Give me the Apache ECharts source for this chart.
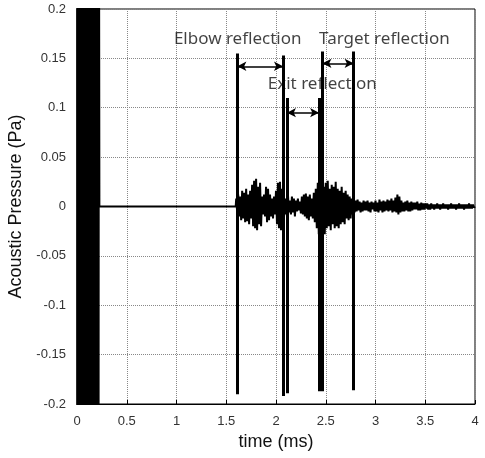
<!DOCTYPE html>
<html>
<head>
<meta charset="utf-8">
<script src="https://cdn.jsdelivr.net/npm/echarts@6/dist/echarts.min.js"></script>
<style>
  html, body { margin: 0; padding: 0; background: #fff; }
  #chart { width: 485px; height: 458px; }
</style>
</head>
<body>
<div id="chart"></div>
<script>
// x ticks / y ticks
const xTicks = { min: 0, max: 4, step: 0.5 }
const yTicks = { min: -0.2, max: 0.2, step: 0.05 }

// incident pulse near t = 0 (clipped by the y range)
const burstStart = 0
const burstStep = 0.005
const burstValues = [
  0.9, -0.8, 1.0, -0.9, 0.7, -1.0, 0.8, -0.7, 0.9, -0.8,
  1.0, -0.9, 0.8, -1.0, 0.9, -0.8, 0.7, -0.9, 1.0, -0.7,
  0.8, -0.9, 0.9, -1.0, 0.7, -0.8, 1.0, -0.9, 0.8, -0.7,
  0.9, -1.0, 0.8, -0.9, 0.7, -0.8, 0.9, -0.7, 0.6, -0.8,
  0.7, -0.6, 0.5, -0.6, 0.4
]
// quiet stretch between pulse and echoes
const quietTimes = [0.225, 1.595]

// echoes (ms from 1.6, step 0.01)
const echoStart = 1.6
const echoStep = 0.01
const echoValues = [
  0.008, -0.006, 0.012, -0.010, 0.010, -0.014, 0.016, -0.012, 0.014, -0.016,
  0.018, -0.015, 0.012, -0.018, 0.016, -0.012, 0.022, -0.020, 0.026, -0.022,
  0.028, -0.024, 0.020, -0.018, 0.024, -0.020, 0.010, -0.008, 0.012, -0.010,
  0.020, -0.016, 0.018, -0.014, 0.012, -0.010, 0.008, -0.012, 0.010, -0.008,
  0.016, -0.018, 0.024, -0.022, 0.025, -0.024, 0.018, -0.020, 0.010, -0.008,
  0.008, -0.010, 0.012, -0.006, 0.006, -0.008, 0.010, -0.006, 0.008, -0.010,
  0.006, -0.005, 0.008, -0.004, 0.005, -0.007, 0.010, -0.008, 0.012, -0.010,
  0.013, -0.012, 0.010, -0.014, 0.012, -0.010, 0.008, -0.012, 0.014, -0.016,
  0.018, -0.022, 0.024, -0.028, 0.022, -0.026, 0.026, -0.024, 0.020, -0.028,
  0.024, -0.022, 0.026, -0.020, 0.018, -0.024, 0.022, -0.018, 0.020, -0.022,
  0.025, -0.020, 0.018, -0.022, 0.016, -0.018, 0.020, -0.016, 0.014, -0.018,
  0.016, -0.012, 0.012, -0.014, 0.010, -0.012, 0.008, -0.008, 0.006, -0.006,
  0.006, -0.005, 0.007, -0.004, 0.005, -0.006, 0.004, -0.005, 0.006, -0.004,
  0.005, -0.004, 0.006, -0.005, 0.004, -0.006, 0.005, -0.003, 0.004, -0.005,
  0.006, -0.005, 0.004, -0.006, 0.007, -0.004, 0.005, -0.006, 0.006, -0.005,
  0.005, -0.004, 0.007, -0.005, 0.006, -0.004, 0.008, -0.006, 0.006, -0.005,
  0.009, -0.006, 0.012, -0.008, 0.010, -0.006, 0.006, -0.005, 0.004, -0.005,
  0.005, -0.004, 0.006, -0.005, 0.004, -0.005, 0.005, -0.004, 0.004, -0.003,
  0.004, -0.003, 0.005, -0.004, 0.003, -0.004, 0.004, -0.003, 0.003, -0.003,
  0.003, -0.002, 0.003, -0.003, 0.002, -0.003, 0.003, -0.002, 0.002, -0.003,
  0.002, -0.002, 0.003, -0.002, 0.002, -0.003, 0.002, -0.002, 0.003, -0.002,
  0.002, -0.002, 0.002, -0.003, 0.002, -0.002, 0.003, -0.002, 0.002, -0.002,
  0.002, -0.003, 0.002, -0.002, 0.003, -0.002, 0.002, -0.002, 0.002, -0.003,
  0.002, -0.002, 0.002, -0.002, 0.003, -0.002, 0.002, -0.002, 0.002, -0.001,
  0
]

// reflection markers: [time, top, bottom]
const markerLines = [
  [1.612, 0.155, -0.190],
  [2.070, 0.153, -0.192],
  [2.110, 0.110, -0.189],
  [2.433, 0.110, -0.187],
  [2.467, 0.157, -0.187],
  [2.780, 0.157, -0.186]
]
// arrows: [from, to, level]
const arrows = [
  [1.612, 2.070, 0.142],
  [2.110, 2.433, 0.095],
  [2.467, 2.780, 0.145]
]
// labels: [text, time, level]
const labels = [
  ['Elbow reflection', 1.615, 0.169],
  ['Exit reflection', 2.465, 0.124],
  ['Target reflection', 3.089, 0.169]
]

let signal = []
burstValues.forEach((v, i) => signal.push([burstStart + i * burstStep, v]))
quietTimes.forEach(t => signal.push([t, 0]))
echoValues.forEach((v, i) => signal.push([echoStart + i * echoStep, v]))

let markData = []
markerLines.forEach(m => {
  markData.push([
    { coord: [m[0], m[1]], symbol: 'none' },
    { coord: [m[0], m[2]], symbol: 'none', lineStyle: { width: 3, type: 'solid', color: '#000' } }
  ])
})
arrows.forEach(a => {
  markData.push([
    { coord: [a[0], a[2]], symbol: 'arrow' },
    { coord: [a[1], a[2]], symbol: 'arrow', lineStyle: { width: 1.5, type: 'solid', color: '#000' } }
  ])
})

let myChart = echarts.init(document.getElementById('chart'))
let axisFont = { fontFamily: 'Liberation Sans', fontSize: 13, color: '#333' }
let option = {
  animation: false,
  grid: {
    left: 77, right: 10, top: 9, bottom: 54,
    outerBoundsMode: 'none',
    containLabel: false,
    show: true, borderColor: '#000', borderWidth: 1
  },
  xAxis: {
    type: 'value',
    min: xTicks.min, max: xTicks.max, interval: xTicks.step,
    name: 'time (ms)',
    nameLocation: 'middle',
    nameGap: 28,
    nameTextStyle: { fontFamily: 'Liberation Sans', fontSize: 18, color: '#111' },
    axisLine: { onZero: false, lineStyle: { color: '#000' } },
    axisTick: { inside: true, length: 4, lineStyle: { color: '#000' } },
    axisLabel: Object.assign({ margin: 11 }, axisFont),
    splitLine: { lineStyle: { type: 'dotted', color: '#888' } }
  },
  yAxis: {
    type: 'value',
    min: yTicks.min, max: yTicks.max, interval: yTicks.step,
    name: 'Acoustic Pressure (Pa)',
    nameLocation: 'middle',
    nameGap: 34,
    nameTextStyle: { fontFamily: 'Liberation Sans', fontSize: 18, color: '#111' },
    axisLine: { show: true, onZero: false, lineStyle: { color: '#000' } },
    axisTick: { show: true, inside: true, length: 4, lineStyle: { color: '#000' } },
    axisLabel: Object.assign({ margin: 11 }, axisFont),
    splitLine: { lineStyle: { type: 'dotted', color: '#888' } }
  },
  series: [{
    type: 'line',
    data: signal,
    showSymbol: false,
    clip: true,
    lineStyle: { color: '#000', width: 2 },
    z: 2
  }, {
    type: 'scatter',
    symbolSize: 0,
    data: labels.map(l => ({ name: l[0], value: [l[1], l[2]] })),
    label: {
      show: true,
      position: 'inside',
      formatter: '{b}',
      fontFamily: 'Noto Sans',
      fontSize: 17,
      color: '#111'
    },
    z: 3
  }, {
    type: 'line',
    data: [],
    markLine: {
      silent: true,
      symbolSize: [7, 9],
      label: { show: false },
      lineStyle: { color: '#000' },
      data: markData
    },
    z: 5
  }]
}
myChart.setOption(option)
window.addEventListener('resize', function () {
  myChart.resize()
})
</script>
</body>
</html>
